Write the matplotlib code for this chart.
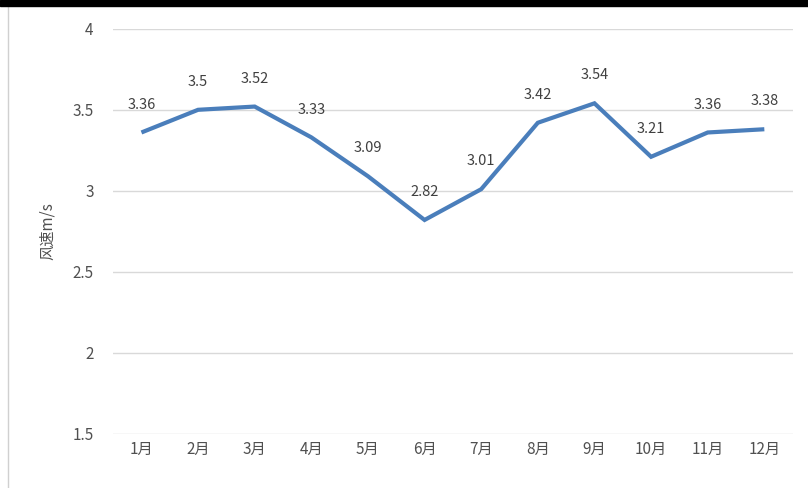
import matplotlib.pyplot as plt
from matplotlib.lines import Line2D
from matplotlib.patches import Rectangle

plt.rcParams['font.family'] = ['Noto Sans CJK SC', 'DejaVu Sans']

months = ['1月', '2月', '3月', '4月', '5月', '6月', '7月', '8月', '9月', '10月', '11月', '12月']
speed = [3.36, 3.5, 3.52, 3.33, 3.09, 2.82, 3.01, 3.42, 3.54, 3.21, 3.36, 3.38]
yticks = [1.5, 2, 2.5, 3, 3.5, 4]
ytick_labels = ['1.5', '2', '2.5', '3', '3.5', '4']

fig = plt.figure(figsize=(8.08, 4.88), dpi=100)
ax = fig.add_axes([0.140, 0.111, 0.841, 0.830])

x = list(range(len(months)))
ax.plot(x, speed, color='#4a7ebb', lw=3, solid_capstyle='butt', solid_joinstyle='miter', zorder=3)
for xi, v in zip(x, speed):
    ax.annotate(f'{v:g}', (xi, v), xytext=(0, 15), textcoords='offset points',
                ha='center', va='bottom', fontsize=10.5, color='#404040')

ax.set_xlim(-0.5, len(months) - 0.5)
ax.set_ylim(1.5, 4)
ax.set_xticks(x)
ax.set_xticklabels(months, fontsize=11, color='#505050')
ax.set_yticks(yticks)
ax.set_yticklabels(ytick_labels, fontsize=11, color='#505050')
ax.tick_params(length=0, pad=14)
ax.tick_params(axis='x', pad=5)
ax.grid(axis='y', color='#d9d9d9', lw=1)
ax.set_axisbelow(True)
for s in ax.spines.values():
    s.set_visible(False)
ax.set_ylabel('风速m/s', fontsize=11, color='#505050', labelpad=12)

# screenshot frame
fig.patches.append(Rectangle((0, 1 - 6 / 488), 1, 6 / 488, transform=fig.transFigure,
                             color='black', zorder=10))
fig.lines.append(Line2D([8 / 808, 8 / 808], [0, 1 - 6 / 488], transform=fig.transFigure,
                        color='#d0d0d0', lw=1))

fig.savefig('out.png', dpi=100)
